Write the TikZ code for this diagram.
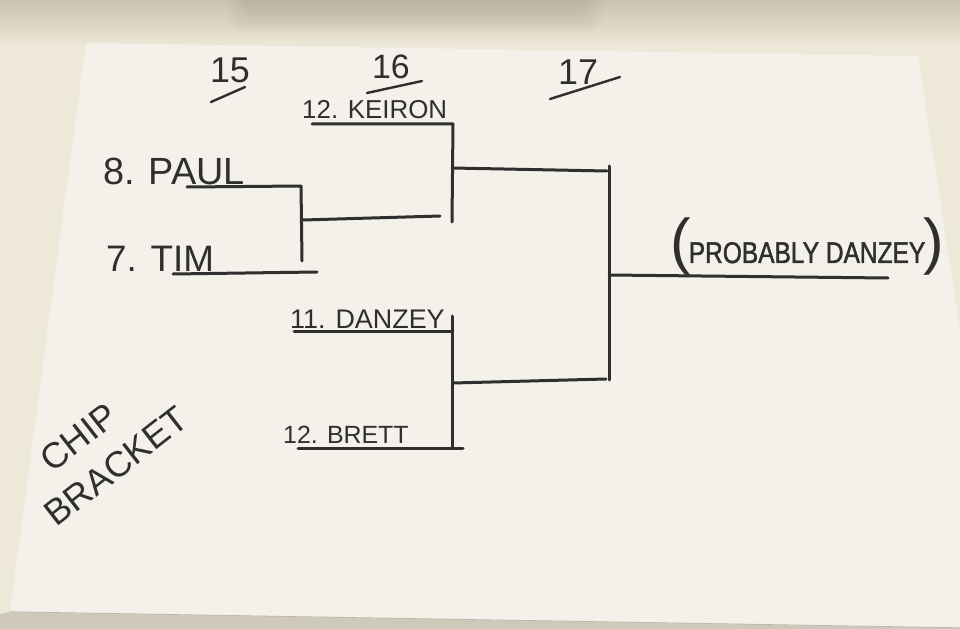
\documentclass[tikz,border=0pt]{standalone}
\usepackage{fontspec}
\setmainfont{Liberation Sans}
\newfontfamily\handfont{Liberation Sans}
\newfontfamily\narrowbold[FakeStretch=0.82,FakeBold=1.5]{Liberation Sans}
\definecolor{ink}{HTML}{2F2F2F}
\definecolor{cream}{HTML}{EDE8D7}
\definecolor{sheet}{HTML}{F3F1E9}
\definecolor{shadowgrey}{HTML}{C9C2B0}
\definecolor{edgegrey}{HTML}{B9B4A6}
\tikzset{
  bline/.style={draw=ink, line width=3bp, line cap=round, line join=round},
  uline/.style={draw=ink, line width=2.4bp, line cap=round},
  lbl/.style={text=ink, inner sep=0pt, anchor=base west, font=\handfont},
  big/.style={lbl, font=\handfont\fontsize{38}{38}\selectfont},
  small/.style={lbl, font=\handfont\fontsize{26}{26}\selectfont},
  numlbl/.style={lbl, anchor=base, font=\handfont\fontsize{36}{36}\selectfont},
  titlelbl/.style={text=ink, inner sep=0pt, anchor=center, align=left,
    font=\handfont\fontsize{36}{46}\selectfont}
}
\begin{document}
\begin{tikzpicture}[x=1bp, y=-1bp]
\useasboundingbox (0,0) rectangle (960,629);
% background
\fill[cream] (0,0) rectangle (960,629);
\fill[top color=shadowgrey, bottom color=cream] (0,0) rectangle (960,46);
\foreach \d in {0,4,8,12,16}{
  \fill[black!30!shadowgrey, opacity=0.045, rounded corners=16bp]
    (244-\d,-20) rectangle (586+\d,16+\d);
}
\fill[sheet] (86,43) -- (918,56) -- (960,330) -- (960,628) -- (10,612) -- cycle;
\draw[edgegrey, line width=1.2bp] (10,612) -- (960,628);
\fill[edgegrey!60!cream] (0,614) -- (10,612) -- (960,628) -- (960,629) -- (0,629) -- cycle;

% round numbers
\node[numlbl] (r15) at (230,83) {15};
\node[numlbl, font=\handfont\fontsize{34}{34}\selectfont] (r16) at (391,79) {16};
\node[numlbl] (r17) at (578,85) {17};
\coordinate (u15a) at (211,102); \coordinate (u15b) at (245,87);
\coordinate (u16a) at (367,93);  \coordinate (u16b) at (422,81);
\coordinate (u17a) at (550,99);  \coordinate (u17b) at (620,77);
\draw[uline] (u15a) -- (u15b);
\draw[uline] (u16a) -- (u16b);
\draw[uline] (u17a) -- (u17b);

% names
\node[big] (paul) at (103,185) {8. PAUL};
\node[big, font=\handfont\fontsize{37}{37}\selectfont] (tim) at (106,272) {7. TIM};
\node[small] (keiron) at (302,119) {12. KEIRON};
\node[small, font=\handfont\fontsize{27}{27}\selectfont] (danzey) at (290,328) {11. DANZEY};
\node[small, font=\handfont\fontsize{25}{25}\selectfont] (brett) at (283,443) {12. BRETT};
\node[lbl, font=\handfont\fontsize{62}{62}\selectfont] (winner) at (670,263)
  {(\kern-2bp{\narrowbold\fontsize{30}{30}\selectfont PROBABLY DANZEY}\kern-2bp)};

% title
\node[titlelbl, rotate=38] (title) at (102,448) {\hspace*{30bp}CHIP\\BRACKET};

% bracket coordinates
\coordinate (paulL) at (187,187); \coordinate (paulR) at (301,186);
\coordinate (timL) at (173,274);  \coordinate (timR) at (317,272);
\coordinate (v1b) at (302,261);
\coordinate (m1L) at (303,220);   \coordinate (m1R) at (440,216);
\coordinate (keL) at (312,124);   \coordinate (keR) at (453,124);
\coordinate (v2b) at (452,222);
\coordinate (u1L) at (452,168);   \coordinate (u1R) at (607,171);
\coordinate (daL) at (294,331);   \coordinate (daR) at (452,331);
\coordinate (v3t) at (452,316);   \coordinate (v3b) at (452,448);
\coordinate (brL) at (298,448);   \coordinate (brR) at (463,448);
\coordinate (u2L) at (453,383);   \coordinate (u2R) at (606,379);
\coordinate (v4t) at (609,166);   \coordinate (v4b) at (609,380);
\coordinate (fL) at (609,275);    \coordinate (fR) at (888,278);

\draw[bline] (paulL) -- (paulR) -- (v1b);
\draw[bline] (timL) -- (timR);
\draw[bline] (m1L) -- (m1R);
\draw[bline] (keL) -- (keR) -- (v2b);
\draw[bline] (u1L) -- (u1R);
\draw[bline] (daL) -- (daR);
\draw[bline] (v3t) -- (v3b);
\draw[bline] (brL) -- (brR);
\draw[bline] (u2L) -- (u2R);
\draw[bline] (v4t) -- (v4b);
\draw[bline] (fL) -- (fR);
\end{tikzpicture}
\end{document}
